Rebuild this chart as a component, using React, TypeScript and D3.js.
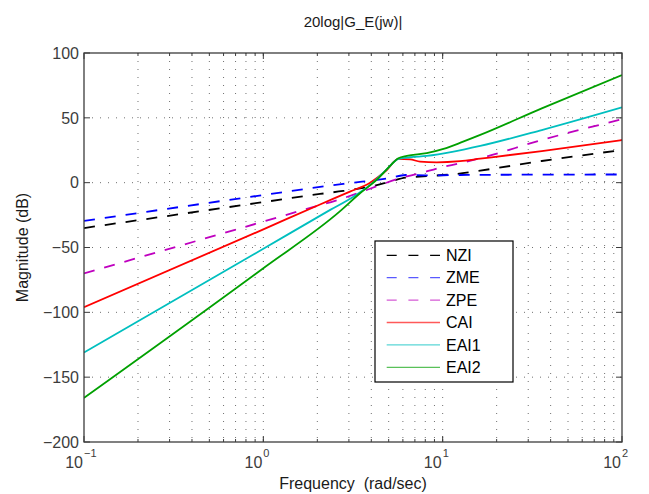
import React from "react";
import * as d3 from "d3";

// ---- data ----
const seriesNames = ["NZI", "ZME", "ZPE", "CAI", "EAI1", "EAI2"];

const nziFreq = [0.1, 1, 2.07, 2.79, 3.94, 5.09, 6.2, 6.9, 8.5, 11.5, 16.2, 35.7, 100];
const nziMag = [-35, -15, -8.7, -6.4, -3.1, 0.8, 3.9, 4.4, 5.2, 6.5, 9.3, 16.7, 25.2];

const zmeFreq = [0.1, 1, 2.07, 2.92, 5.09, 6.2, 8, 12.5, 35.7, 100];
const zmeMag = [-29.5, -9.5, -3.3, -0.6, 3.6, 5.9, 5.6, 5.9, 6.2, 6.3];

const zpeFreq = [0.1, 1, 2.07, 2.51, 3.46, 4.48, 5.78, 7.48, 9.67, 12.5, 16.2, 35.7, 100];
const zpeMag = [-70, -30, -17.3, -14.0, -7.5, -1.8, 3.4, 7.2, 11.6, 15, 18.8, 32.9, 48.9];

const caiFreq = [0.1, 1, 2.07, 3.04, 3.94, 4.88, 5.66, 6.58, 7.48, 9.27, 12.5, 16.2, 35.7, 100];
const caiMag = [-96, -36, -16.8, -6.9, 0, 9.8, 18.3, 18, 16.2, 15.7, 16.6, 18.5, 24.4, 32.9];

const eai1Freq = [0.1, 1, 2.36, 3.18, 3.94, 4.88, 5.66, 6.58, 8.15, 11.5, 16.2, 35.7, 100];
const eai1Mag = [-131, -51, -21, -10.8, -1.8, 10.3, 18.3, 19.6, 20.6, 23.9, 28.3, 40.6, 58.1];

const eai2Freq = [0.1, 1, 2.68, 3.46, 4.28, 5.09, 5.66, 6.31, 8.15, 10.1, 13, 16.2, 35.7, 100];
const eai2Mag = [-166, -66, -22, -8.2, 2.1, 12.9, 18.8, 20.6, 22.7, 26, 31.6, 36.8, 57.3, 83];

const yTicks = [-200, -150, -100, -50, 0, 50, 100];
const xTickExponents = [-1, 0, 1, 2];
const titleText = "20log|G_E(jw)|";
const xLabelText = "Frequency  (rad/sec)";
const yLabelText = "Magnitude (dB)";

const seriesFreqs = [nziFreq, zmeFreq, zpeFreq, caiFreq, eai1Freq, eai2Freq];
const seriesMags = [nziMag, zmeMag, zpeMag, caiMag, eai1Mag, eai2Mag];
const seriesColors = ["#000000", "#0000ff", "#bf00bf", "#ff0000", "#00bfbf", "#00a000"];
const seriesDashed = [true, true, true, false, false, false];

// ---- layout ----
const W = 649;
const H = 494;
const left = 84;
const right = 622;
const top = 53;
const bottom = 442;
const font = "'Liberation Sans', Arial, Helvetica, sans-serif";
const axisColor = "#3c3c3c";
const gridColor = "#707070";

export default function App() {
  const x = d3.scaleLog().domain([0.1, 100]).range([left, right]);
  const y = d3.scaleLinear().domain([-200, 100]).range([bottom, top]);

  const line = d3
    .line<[number, number]>()
    .x((d) => x(d[0]))
    .y((d) => y(d[1]))
    .curve(d3.curveMonotoneX);

  const minorFreqs: number[] = [];
  for (let e = -1; e < 2; e++) {
    for (let k = 1; k <= 9; k++) {
      const f = k * Math.pow(10, e);
      if (f > 0.1 && f < 100) minorFreqs.push(f);
    }
  }

  const legendLeft = 375;
  const legendTop = 241;
  const legendW = 138;
  const legendH = 141;
  const rowStart = 255.3;
  const rowStep = 22.4;

  return (
    <svg
      width={W}
      height={H}
      style={{ position: "absolute", left: 0, top: 0, background: "#fff" }}
      fontFamily={font}
    >
      <defs>
        <clipPath id="plotClip">
          <rect x={left} y={top} width={right - left} height={bottom - top} />
        </clipPath>
      </defs>
      <rect x={0} y={0} width={W} height={H} fill="#fff" />

      {/* grid */}
      {minorFreqs.map((f, i) => (
        <line
          key={"gx" + i}
          x1={x(f)}
          x2={x(f)}
          y1={top}
          y2={bottom}
          stroke={gridColor}
          strokeWidth={1}
          strokeDasharray="1,7"
        />
      ))}
      {yTicks
        .filter((v) => v > -200 && v < 100)
        .map((v) => (
          <line
            key={"gy" + v}
            x1={left}
            x2={right}
            y1={y(v)}
            y2={y(v)}
            stroke={gridColor}
            strokeWidth={1}
            strokeDasharray="1,7"
          />
        ))}

      {/* curves */}
      <g clipPath="url(#plotClip)">
        {seriesNames.map((name, i) => {
          const pts: [number, number][] = seriesFreqs[i].map((f, j) => [f, seriesMags[i][j]]);
          return (
            <path
              key={name}
              d={line(pts) || ""}
              fill="none"
              stroke={seriesColors[i]}
              strokeWidth={1.8}
              strokeDasharray={seriesDashed[i] ? "11,10" : undefined}
            />
          );
        })}
      </g>

      {/* axes box */}
      <rect
        x={left}
        y={top}
        width={right - left}
        height={bottom - top}
        fill="none"
        stroke={axisColor}
        strokeWidth={1.3}
      />

      {/* y ticks */}
      {yTicks.map((v) => (
        <g key={"yt" + v}>
          <line x1={left} x2={left + 6} y1={y(v)} y2={y(v)} stroke={axisColor} strokeWidth={1} />
          <line x1={right} x2={right - 6} y1={y(v)} y2={y(v)} stroke={axisColor} strokeWidth={1} />
          <text
            x={left - 5}
            y={y(v)}
            dy="0.36em"
            textAnchor="end"
            fontSize={16}
            fill={axisColor}
          >
            {v < 0 ? "\u2212" + Math.abs(v) : String(v)}
          </text>
        </g>
      ))}

      {/* x ticks */}
      {minorFreqs.map((f, i) => (
        <g key={"xm" + i}>
          <line x1={x(f)} x2={x(f)} y1={bottom} y2={bottom - 3} stroke={axisColor} strokeWidth={1} />
          <line x1={x(f)} x2={x(f)} y1={top} y2={top + 3} stroke={axisColor} strokeWidth={1} />
        </g>
      ))}
      {xTickExponents.map((e) => {
        const px = x(Math.pow(10, e));
        return (
          <g key={"xt" + e}>
            <line x1={px} x2={px} y1={bottom} y2={bottom - 6} stroke={axisColor} strokeWidth={1} />
            <line x1={px} x2={px} y1={top} y2={top + 6} stroke={axisColor} strokeWidth={1} />
            <text x={px - 1} y={468} textAnchor="end" fontSize={16} fill={axisColor}>
              10
            </text>
            <text x={px} y={457} textAnchor="start" fontSize={11} fill={axisColor}>
              {e < 0 ? "\u2212" + Math.abs(e) : String(e)}
            </text>
          </g>
        );
      })}

      {/* labels */}
      <text x={(left + right) / 2} y={27} textAnchor="middle" fontSize={15} fill="#1a1a1a">
        {titleText}
      </text>
      <text
        x={(left + right) / 2}
        y={489}
        textAnchor="middle"
        fontSize={16}
        fill="#1a1a1a"
        style={{ whiteSpace: "pre" }}
      >
        {xLabelText}
      </text>
      <text
        transform={`translate(28,${(top + bottom) / 2}) rotate(-90)`}
        textAnchor="middle"
        fontSize={16}
        fill="#1a1a1a"
      >
        {yLabelText}
      </text>

      {/* legend */}
      <rect x={legendLeft} y={legendTop} width={legendW} height={legendH} fill="#fff" stroke="#000" strokeWidth={1.2} />
      {seriesNames.map((name, i) => {
        const ry = rowStart + i * rowStep;
        return (
          <g key={"lg" + name}>
            <line
              x1={386.7}
              x2={440}
              y1={ry}
              y2={ry}
              stroke={seriesColors[i]}
              strokeWidth={1.3}
              strokeOpacity={i === 0 ? 1 : 0.65}
              strokeDasharray={seriesDashed[i] ? "10,11.7" : undefined}
            />
            <text x={446} y={ry} dy="0.36em" fontSize={16} fill="#000">
              {name}
            </text>
          </g>
        );
      })}
    </svg>
  );
}
